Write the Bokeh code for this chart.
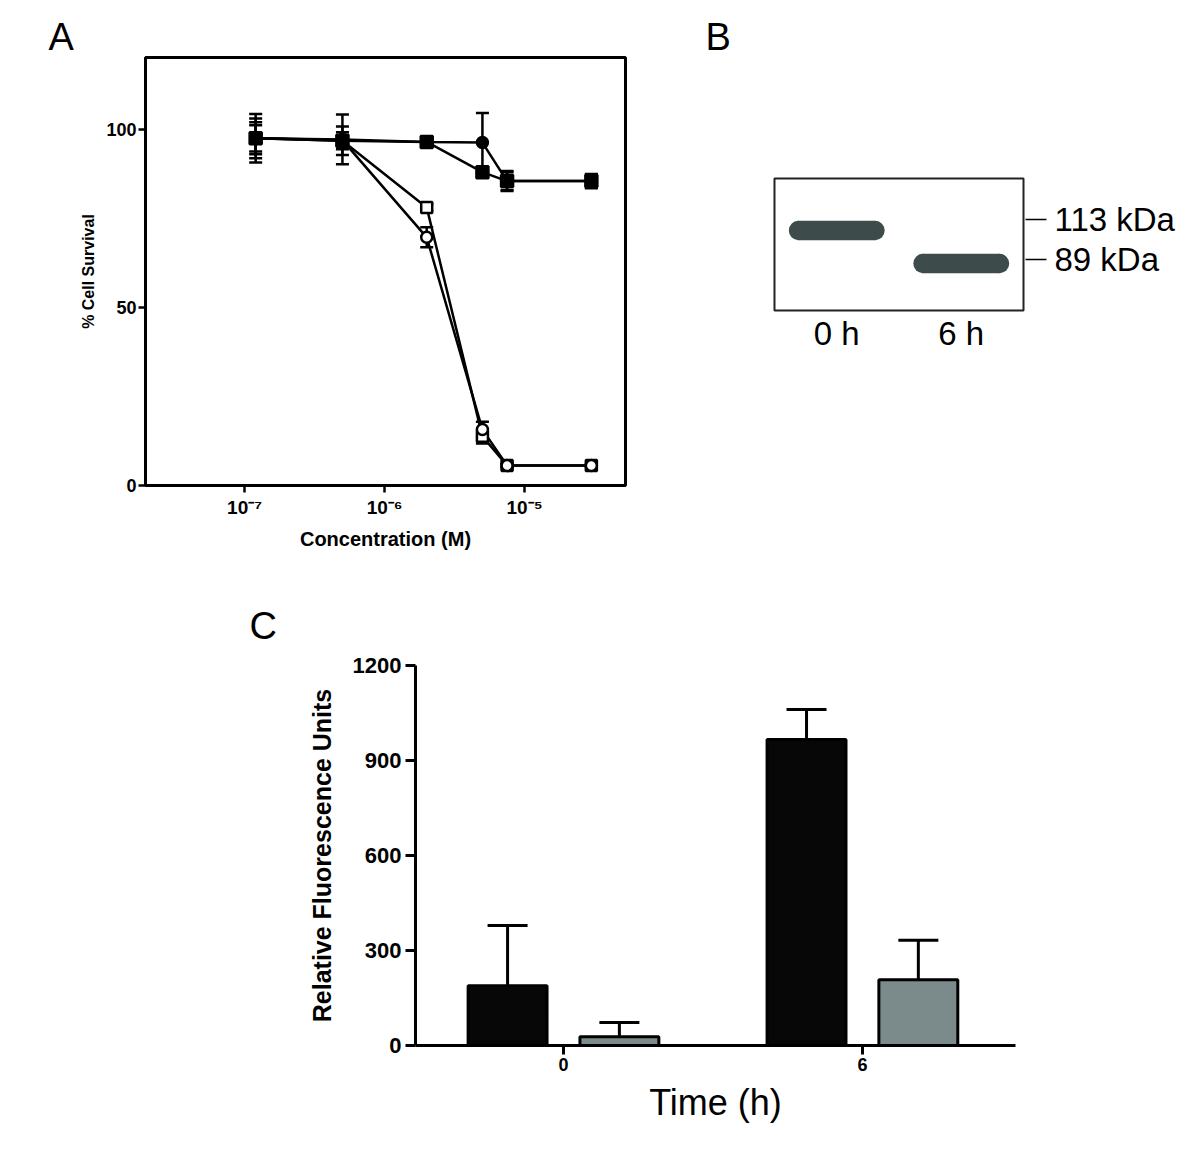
import numpy as np
from bokeh.plotting import figure
from bokeh.models import (Range1d, FixedTicker, Whisker, TeeHead,
                          ColumnDataSource, Title)
from bokeh.core.properties import value
from bokeh.layouts import column, row
from bokeh.embed import file_html
from bokeh.resources import INLINE

FONT = "Liberation Sans"

# ---------------- Panel A data ----------------
conc = [1.2e-7, 5e-7, 2e-6, 5e-6, 7.5e-6, 3e-5]
surv_filled_circle = [97.5, 97.2, 96.5, 96.3, 85.5, 85.5]
err_filled_circle = [6.8, 7.0, 0.8, 8.3, 2.8, 2.0]
surv_filled_square = [97.5, 96.8, 96.5, 88.0, 85.5, 85.5]
err_filled_square = [5.6, 4.0, 0.8, 1.0, 2.5, 1.8]
surv_open_square = [97.5, 96.8, 78.1, 13.8, 5.6, 5.6]
err_open_square = [4.5, 2.4, 1.0, 2.0, 0.5, 0.5]
surv_open_circle = [97.5, 97.0, 69.7, 15.7, 5.6, 5.6]
err_open_circle = [3.7, 1.0, 2.8, 2.2, 0.5, 0.5]
a_yticks = [0, 50, 100]
a_xticks = [1e-7, 1e-6, 1e-5]
a_xtick_labels = ["10\u207b\u2077", "10\u207b\u2076", "10\u207b\u2075"]

# ---------------- Panel B data ----------------
lanes = ["0 h", "6 h"]
band_kda = [106.4, 86.6]
marker_kda = [113, 89]
marker_labels = ["113 kDa", "89 kDa"]

# ---------------- Panel C data ----------------
times = ["0", "6"]
rfu_black = [189, 966]
rfu_black_err = [190, 95]
rfu_gray = [28, 208]
rfu_gray_err = [45, 124]
c_yticks = [0, 300, 600, 900, 1200]


def style_axis_fonts(ax, size, bold=True):
    ax.major_label_text_font = FONT
    ax.major_label_text_font_size = size
    ax.major_label_text_font_style = "bold" if bold else "normal"
    ax.major_label_text_color = "black"
    ax.axis_label_text_font = FONT
    ax.axis_label_text_color = "black"


def panel_letter(text, offset, standoff):
    return Title(text=text, align="left", offset=offset, standoff=standoff,
                 text_font=FONT, text_font_size="38px",
                 text_font_style="normal", text_color="black")


# ================= Panel A =================
pA = figure(x_axis_type="log", x_range=Range1d(1.96e-8, 5.26e-5),
            y_range=Range1d(0, 120.2), frame_width=480, frame_height=428,
            min_border_left=145, min_border_right=75, min_border_top=57,
            min_border_bottom=85, output_backend="svg", toolbar_location=None)
pA.title = panel_letter("A", -97, 0)
pA.xgrid.visible = False
pA.ygrid.visible = False
pA.outline_line_color = "black"
pA.outline_line_width = 3
pA.border_fill_color = "white"

ya = pA.yaxis[0]
ya.ticker = FixedTicker(ticks=a_yticks)
ya.axis_line_color = None
ya.major_tick_out = 7
ya.major_tick_in = 0
ya.major_tick_line_width = 2.5
ya.minor_tick_line_color = None
style_axis_fonts(ya, "18px")
ya.major_label_standoff = 2
ya.axis_label = "% Cell Survival"
ya.axis_label_text_font_size = "16px"
ya.axis_label_text_font_style = "bold"
ya.axis_label_standoff = 6

xa = pA.xaxis[0]
xa.ticker = FixedTicker(ticks=a_xticks)
xa.major_label_overrides = {t: l for t, l in zip(a_xticks, a_xtick_labels)}
xa.axis_line_color = None
xa.major_tick_out = 7
xa.major_tick_in = 0
xa.major_tick_line_width = 2.5
xa.minor_tick_line_color = None
style_axis_fonts(xa, "19px")
xa.major_label_standoff = 4
xa.axis_label = "Concentration (M)"
xa.axis_label_text_font_size = "20px"
xa.axis_label_text_font_style = "bold"
xa.axis_label_standoff = 7

# drawing order: open markers below, filled square on top
series = [
    (surv_open_square, err_open_square, "square", "white", 11),
    (surv_open_circle, err_open_circle, "circle", "white", 11),
    (surv_filled_circle, err_filled_circle, "circle", "black", 11),
    (surv_filled_square, err_filled_square, "square", "black", 12),
]
sources = []
for ys, es, mk, fill, sz in series:
    src = ColumnDataSource(dict(x=conc, y=ys,
                                up=[a + b for a, b in zip(ys, es)],
                                lo=[a - b for a, b in zip(ys, es)]))
    sources.append(src)
    pA.add_layout(Whisker(base="x", upper="up", lower="lo", source=src,
                          line_color="black", line_width=2.5,
                          upper_head=TeeHead(size=13, line_width=2.5, line_color="black"),
                          lower_head=TeeHead(size=13, line_width=2.5, line_color="black")))
for src in sources:
    pA.line("x", "y", source=src, line_color="black", line_width=2.5)
for src, (ys, es, mk, fill, sz) in zip(sources, series):
    pA.scatter("x", "y", source=src, marker=mk, size=sz, fill_color=fill,
               line_color="black", line_width=2.5)

# ================= Panel B (western blot) =================
# same frame height as A so that the row keeps both frames aligned
pB = figure(x_range=Range1d(-0.016, 2.016), y_range=Range1d(-46.6, 210.2),
            x_axis_location=None, y_axis_location="right",
            frame_width=253, frame_height=428, min_border_left=72,
            min_border_right=167, min_border_top=57, min_border_bottom=85,
            output_backend="svg", toolbar_location=None)
pB.title = panel_letter("B", -67, 0)
pB.xgrid.visible = False
pB.ygrid.visible = False
pB.outline_line_color = None
pB.border_fill_color = "white"

lane_x = np.arange(len(lanes)) + 0.5
# membrane outline
pB.quad(left=[0], right=[len(lanes)], bottom=[58.4], top=[137.6],
        fill_color=None, line_color="#222222", line_width=2)

band_color = "#3d4c4b"
band_w = 0.77      # lane units
band_h = 11.6      # kDa units (band thickness)
cap_w = 0.15       # width of rounded ends
pB.rect(x=lane_x, y=band_kda, width=band_w - cap_w, height=band_h,
        fill_color=band_color, line_color=None)
for sgn in (-1, 1):
    pB.ellipse(x=lane_x + sgn * (band_w - cap_w) / 2, y=band_kda, width=cap_w,
               height=band_h, fill_color=band_color, line_color=None)

pB.text(x=lane_x, y=[44.6] * len(lanes), text=lanes, text_align="center",
        text_baseline="middle", text_font=value(FONT), text_font_size="33px",
        text_color="black")

yb = pB.yaxis[0]
yb.ticker = FixedTicker(ticks=marker_kda)
yb.major_label_overrides = {t: l for t, l in zip(marker_kda, marker_labels)}
yb.axis_line_color = None
yb.major_tick_out = 21
yb.major_tick_in = 0
yb.major_tick_line_width = 1.5
yb.minor_tick_line_color = None
style_axis_fonts(yb, "33px", bold=False)
yb.major_label_standoff = 8

# ================= Panel C =================
pC = figure(x_range=Range1d(0.005, 2.012), y_range=Range1d(0, 1200),
            frame_width=600, frame_height=380, min_border_left=415,
            min_border_right=177, min_border_top=95, min_border_bottom=121,
            output_backend="svg", toolbar_location=None)
pC.title = panel_letter("C", -166, 38)
pC.xgrid.visible = False
pC.ygrid.visible = False
pC.outline_line_color = None
pC.border_fill_color = "white"

centers = np.arange(len(times)) + 0.5
offset = 0.187
bw = 0.264
src_black = ColumnDataSource(dict(x=centers - offset, top=rfu_black,
                                  up=np.array(rfu_black) + np.array(rfu_black_err)))
src_gray = ColumnDataSource(dict(x=centers + offset, top=rfu_gray,
                                 up=np.array(rfu_gray) + np.array(rfu_gray_err)))
for src in (src_black, src_gray):
    pC.add_layout(Whisker(base="x", upper="up", lower="top", source=src,
                          line_color="black", line_width=3,
                          upper_head=TeeHead(size=40, line_width=3, line_color="black"),
                          lower_head=None))
pC.vbar(x="x", top="top", bottom=0, width=bw, source=src_black,
        fill_color="#070707", line_color="black", line_width=3)
pC.vbar(x="x", top="top", bottom=0, width=bw, source=src_gray,
        fill_color="#7b8b8b", line_color="black", line_width=3)

yc = pC.yaxis[0]
yc.ticker = FixedTicker(ticks=c_yticks)
yc.axis_line_width = 3
yc.major_tick_out = 10
yc.major_tick_in = 0
yc.major_tick_line_width = 3
yc.minor_tick_line_color = None
style_axis_fonts(yc, "22px")
yc.major_label_standoff = 4
yc.axis_label = "Relative Fluorescence Units"
yc.axis_label_text_font_size = "25px"
yc.axis_label_text_font_style = "bold"
yc.axis_label_standoff = 14

xc = pC.xaxis[0]
xc.ticker = FixedTicker(ticks=list(centers))
xc.major_label_overrides = {float(c): t for c, t in zip(centers, times)}
xc.axis_line_width = 3
xc.major_tick_out = 9
xc.major_tick_in = 0
xc.major_tick_line_width = 3
xc.minor_tick_line_color = None
style_axis_fonts(xc, "18px")
xc.major_label_standoff = 3
xc.axis_label = "Time (h)"
xc.axis_label_text_font_size = "36px"
xc.axis_label_text_font_style = "normal"
xc.axis_label_standoff = 8

layout = column(row(pA, pB), pC)
open("out.html", "w").write(file_html(layout, INLINE))
